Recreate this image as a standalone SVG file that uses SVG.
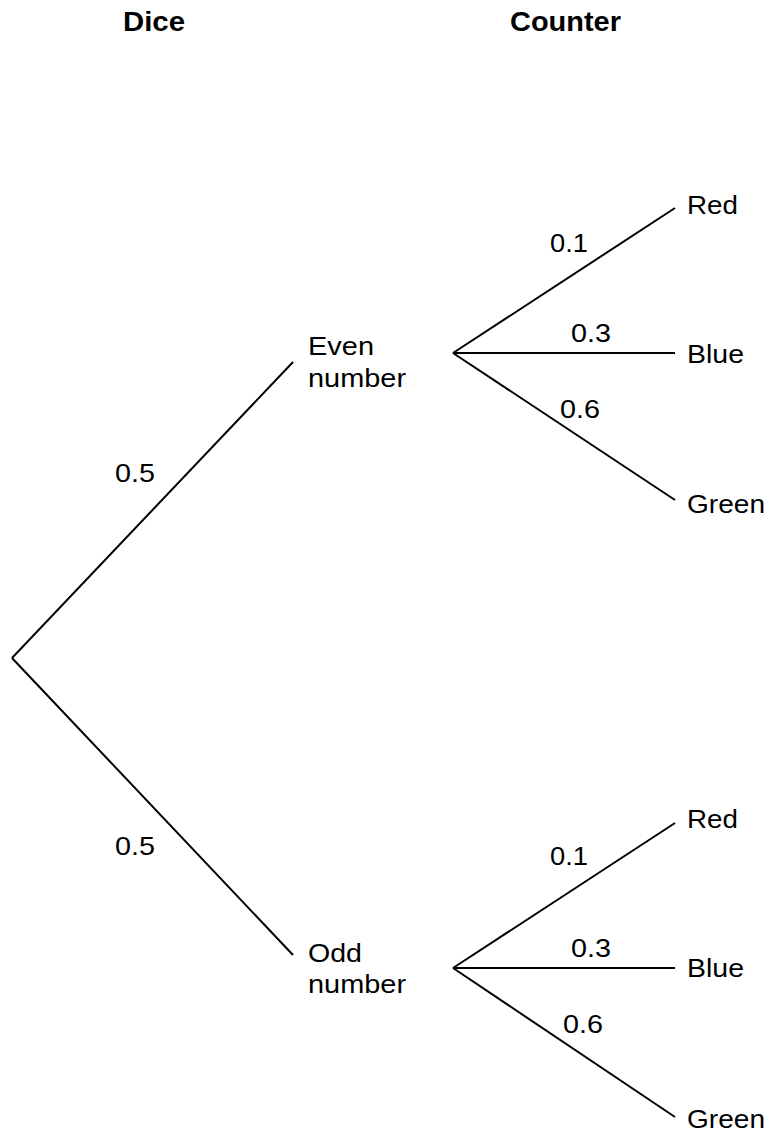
<svg xmlns="http://www.w3.org/2000/svg" width="771" height="1135" viewBox="0 0 771 1135">
<style>
text{font-family:"Liberation Sans",Arial,sans-serif;font-size:25px;fill:#000}
.h{font-weight:bold;font-size:27px}
line{stroke:#000;stroke-width:2;stroke-linecap:butt}
</style>
<rect width="771" height="1135" fill="#fff"/>
<g id="connectors">
<line x1="12" y1="658" x2="293" y2="362"/>
<line x1="12" y1="658" x2="293" y2="955"/>
<line x1="453" y1="353" x2="675" y2="208"/>
<line x1="453" y1="353" x2="675" y2="353"/>
<line x1="453" y1="353" x2="675" y2="500"/>
<line x1="453" y1="968" x2="675" y2="823"/>
<line x1="453" y1="968" x2="675" y2="968"/>
<line x1="453" y1="968" x2="675" y2="1117"/>
</g>
<g id="headers">
<text class="h" x="123" y="31" textLength="62" lengthAdjust="spacingAndGlyphs">Dice</text>
<text class="h" x="510" y="31" textLength="111" lengthAdjust="spacingAndGlyphs">Counter</text>
</g>
<g id="even">
<text x="308" y="355" textLength="66" lengthAdjust="spacingAndGlyphs">Even</text>
<text x="308" y="387" textLength="98" lengthAdjust="spacingAndGlyphs">number</text>
</g>
<g id="odd">
<text x="308" y="962" textLength="54" lengthAdjust="spacingAndGlyphs">Odd</text>
<text x="308" y="993" textLength="98" lengthAdjust="spacingAndGlyphs">number</text>
</g>
<g id="prob-root">
<text x="115" y="482" textLength="40" lengthAdjust="spacingAndGlyphs">0.5</text>
<text x="115" y="855" textLength="40" lengthAdjust="spacingAndGlyphs">0.5</text>
</g>
<g id="even-outcomes">
<text x="687" y="214" textLength="51" lengthAdjust="spacingAndGlyphs">Red</text>
<text x="687" y="363" textLength="57" lengthAdjust="spacingAndGlyphs">Blue</text>
<text x="687" y="513" textLength="78" lengthAdjust="spacingAndGlyphs">Green</text>
<text x="550" y="252" textLength="38" lengthAdjust="spacingAndGlyphs">0.1</text>
<text x="571" y="342" textLength="40" lengthAdjust="spacingAndGlyphs">0.3</text>
<text x="560" y="418" textLength="40" lengthAdjust="spacingAndGlyphs">0.6</text>
</g>
<g id="odd-outcomes">
<text x="687" y="828" textLength="51" lengthAdjust="spacingAndGlyphs">Red</text>
<text x="687" y="977" textLength="57" lengthAdjust="spacingAndGlyphs">Blue</text>
<text x="687" y="1128" textLength="78" lengthAdjust="spacingAndGlyphs">Green</text>
<text x="550" y="865" textLength="38" lengthAdjust="spacingAndGlyphs">0.1</text>
<text x="571" y="957" textLength="40" lengthAdjust="spacingAndGlyphs">0.3</text>
<text x="563" y="1033" textLength="40" lengthAdjust="spacingAndGlyphs">0.6</text>
</g>
</svg>
